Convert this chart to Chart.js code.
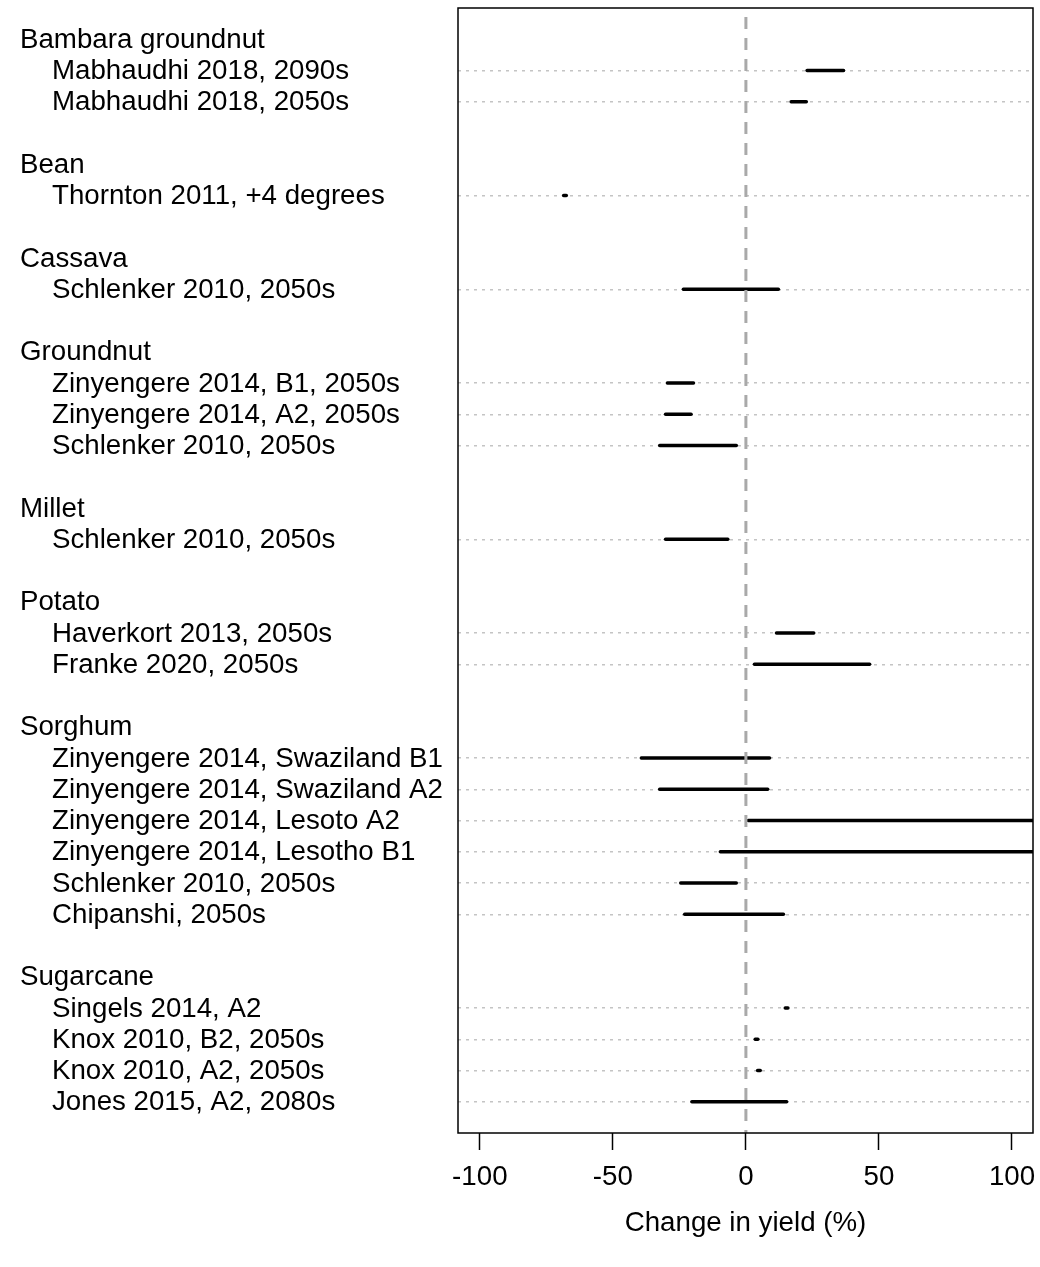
<!DOCTYPE html>
<html>
<head>
<meta charset="utf-8">
<script src="https://cdn.jsdelivr.net/npm/chart.js@4.4.1/dist/chart.umd.min.js"></script>
<style>
    body { margin: 0; background: #fff; }
    #wrap { width: 1040px; height: 1267px; position: relative; }
</style>
</head>
<body>
<div id="wrap"><canvas id="yieldchart"></canvas></div>
<script>
// crops, in the order they appear top to bottom
const crops = ["Bambara groundnut", "Bean", "Cassava", "Groundnut", "Millet", "Potato", "Sorghum", "Sugarcane"];

// one entry per study, with the crop it belongs to (index into crops)
const studies = [
    "Mabhaudhi 2018, 2090s", "Mabhaudhi 2018, 2050s",
    "Thornton 2011, +4 degrees",
    "Schlenker 2010, 2050s",
    "Zinyengere 2014, B1, 2050s", "Zinyengere 2014, A2, 2050s", "Schlenker 2010, 2050s",
    "Schlenker 2010, 2050s",
    "Haverkort 2013, 2050s", "Franke 2020, 2050s",
    "Zinyengere 2014, Swaziland B1", "Zinyengere 2014, Swaziland A2", "Zinyengere 2014, Lesoto A2",
    "Zinyengere 2014, Lesotho B1", "Schlenker 2010, 2050s", "Chipanshi, 2050s",
    "Singels 2014, A2", "Knox 2010, B2, 2050s", "Knox 2010, A2, 2050s", "Jones 2015, A2, 2080s"
];
const studyCrop = [0, 0, 1, 2, 3, 3, 3, 4, 5, 5, 6, 6, 6, 6, 6, 6, 7, 7, 7, 7];

// lower and upper change in yield (%)
const lows = [23, 17, -68.5, -23.5, -29.5, -30.2, -32.4, -30.2, 11.5, 3.2,
    -39.3, -32.4, 0.9, -9.6, -24.5, -23, 14.8, 3.5, 4.4, -20.3];
const highs = [36.7, 22.7, -67.5, 12.2, -19.7, -20.6, -3.6, -6.8, 25.5, 46.5,
    8.9, 8.2, 130, 125, -3.6, 14.1, 15.8, 4.5, 5.4, 15.3];

const xTicks = [-100, -50, 0, 50, 100];
const xTitle = "Change in yield (%)";

// work out which row each heading and study goes on (blank row between crops)
let rowLabels = []; // {row, text, heading}
let studyRows = [];
let row = 0;
crops.forEach((crop, c) => {
    rowLabels.push({ row: row, text: crop, heading: true });
    row++;
    studies.forEach((s, i) => {
        if (studyCrop[i] == c) {
            rowLabels.push({ row: row, text: s, heading: false });
            studyRows[i] = row;
            row++;
        }
    });
    row++;
});
const lastRow = row - 1; // blank row after the last crop

const fontFamily = "'Liberation Sans', Arial, Helvetica, sans-serif";
const fontSize = 27.7;
Chart.defaults.font.family = fontFamily;
Chart.defaults.font.size = fontSize;
Chart.defaults.color = "#000";

let datasets = [];
// dashed line at zero, drawn on top
datasets.push({
    data: [{ x: 0, y: -1 }, { x: 0, y: lastRow }],
    showLine: true,
    borderColor: "#a9a9a9",
    borderWidth: 3,
    borderDash: [12, 9],
    borderDashOffset: 12,
    pointRadius: 0,
});
// one segment per study
studies.forEach((s, i) => {
    datasets.push({
        data: [{ x: lows[i], y: studyRows[i] }, { x: highs[i], y: studyRows[i] }],
        showLine: true,
        borderColor: "#000",
        borderWidth: 3.5,
        borderCapStyle: "round",
        pointRadius: 0,
    });
});

// row labels on the left, and the box round the plot
const labelsPlugin = {
    id: "rowlabels",
    afterDraw(chart) {
        const ctx = chart.ctx;
        const y = chart.scales.y;
        const area = chart.chartArea;
        ctx.save();
        ctx.fillStyle = "#000";
        ctx.font = fontSize + "px " + fontFamily;
        ctx.textBaseline = "middle";
        ctx.textAlign = "left";
        rowLabels.forEach((l) => {
            ctx.fillText(l.text, l.heading ? 20 : 52, y.getPixelForValue(l.row) + 1);
        });
        ctx.strokeStyle = "#000";
        ctx.lineWidth = 1.5;
        ctx.strokeRect(area.left, area.top, area.right - area.left, area.bottom - area.top);
        ctx.restore();
    },
};

new Chart(document.getElementById("yieldchart"), {
    type: "scatter",
    data: { datasets: datasets },
    options: {
        responsive: true,
        maintainAspectRatio: false,
        animation: false,
        layout: { padding: { left: 458, right: 7, top: 8, bottom: 0 } },
        plugins: { legend: { display: false }, tooltip: { enabled: false } },
        scales: {
            x: {
                type: "linear",
                min: -108.2,
                max: 107.9,
                afterBuildTicks: (s) => {
                    s.ticks = xTicks.map((v) => ({ value: v }));
                },
                afterFit: (s) => {
                    s.height = 134;
                    // the end labels may hang over the edge, as in the original
                    s.paddingLeft = 0;
                    s.paddingRight = 0;
                },
                ticks: { padding: 11, maxRotation: 0, autoSkip: false },
                grid: { drawOnChartArea: false, drawTicks: true, tickLength: 17, tickColor: "#000", tickWidth: 1.5 },
                border: { display: false },
                title: { display: true, text: xTitle, padding: { top: 0, bottom: 27 } },
            },
            y: {
                type: "linear",
                reverse: true,
                min: -1,
                max: lastRow,
                afterBuildTicks: (s) => {
                    s.ticks = studyRows.map((v) => ({ value: v }));
                },
                afterFit: (s) => {
                    s.width = 0;
                },
                ticks: { display: false },
                grid: { color: "#c4c4c4", lineWidth: 1.5, drawTicks: false },
                border: { display: false, dash: [3, 5] },
            },
        },
    },
    plugins: [labelsPlugin],
});
</script>
</body>
</html>
